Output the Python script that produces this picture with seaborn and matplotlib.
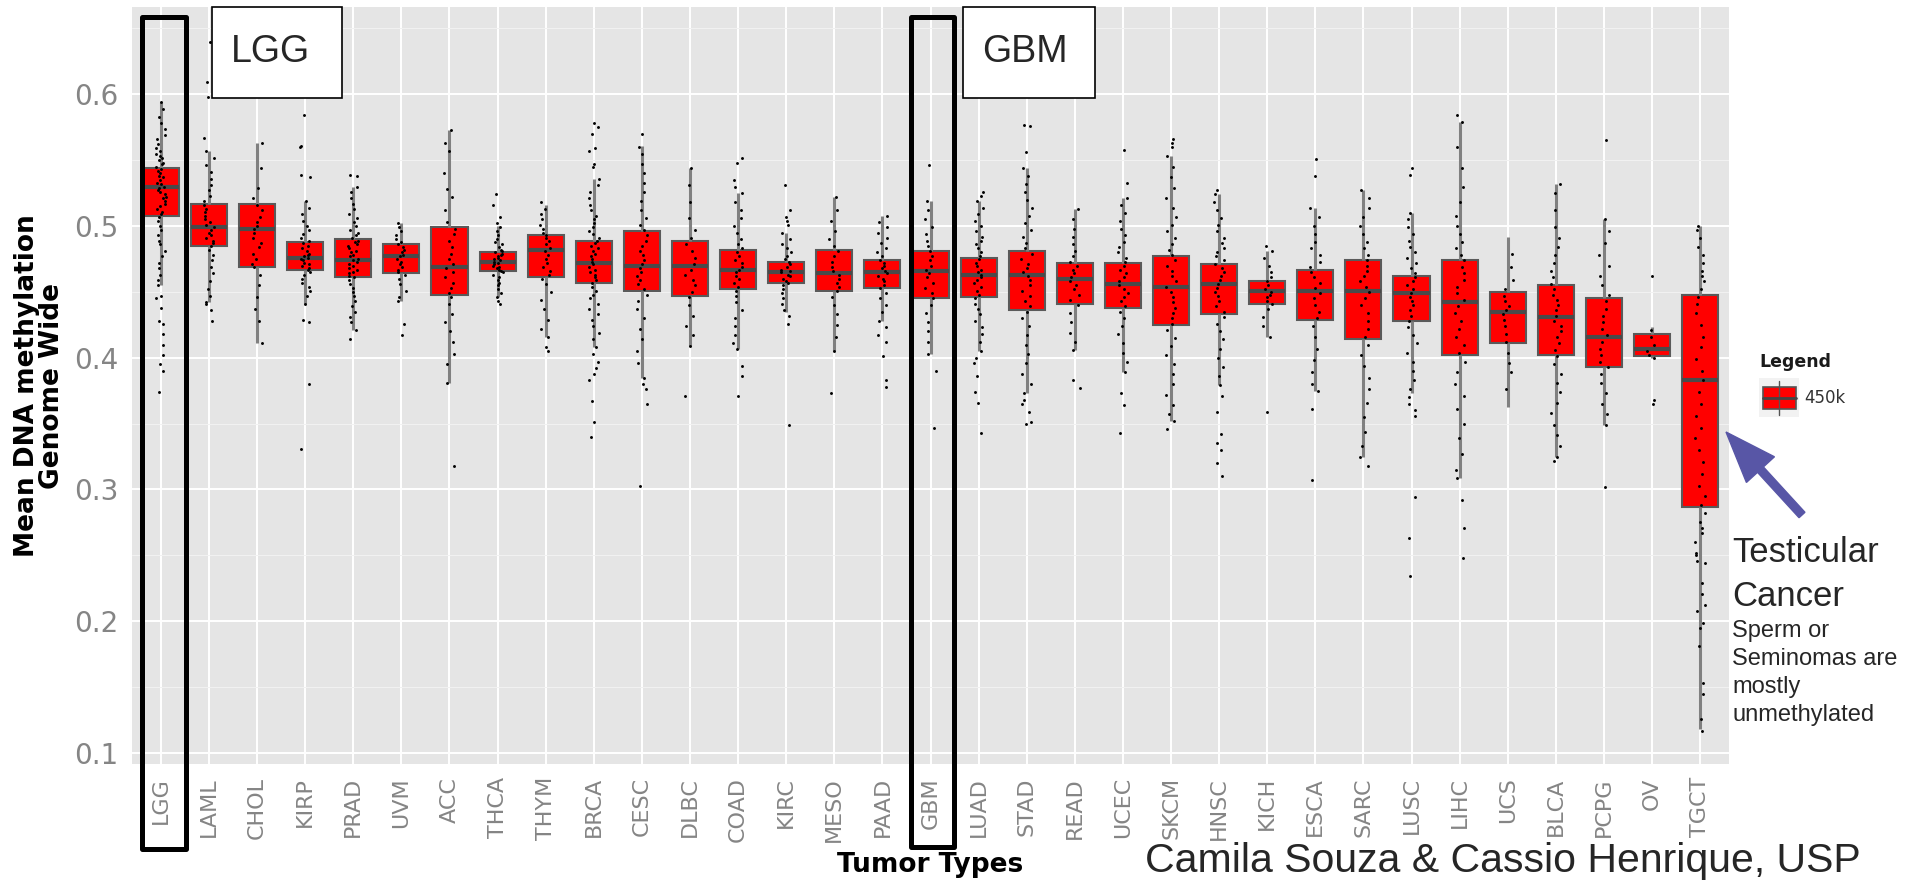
import numpy as np
import pandas as pd
import matplotlib
matplotlib.use("Agg")
import matplotlib.pyplot as plt
import seaborn as sns
from matplotlib.patches import Rectangle, FancyArrow
from matplotlib.lines import Line2D
from matplotlib.transforms import Affine2D
from matplotlib.ticker import MultipleLocator

# 1. Data
tumor_types = ["LGG", "LAML", "CHOL", "KIRP", "PRAD", "UVM", "ACC", "THCA", "THYM", "BRCA",
               "CESC", "DLBC", "COAD", "KIRC", "MESO", "PAAD", "GBM", "LUAD", "STAD", "READ",
               "UCEC", "SKCM", "HNSC", "KICH", "ESCA", "SARC", "LUSC", "LIHC", "UCS", "BLCA",
               "PCPG", "OV", "TGCT"]

whisker_low = [0.455, 0.442, 0.411, 0.441, 0.421, 0.443, 0.381, 0.446, 0.416, 0.408,
               0.385, 0.409, 0.407, 0.435, 0.405, 0.428, 0.403, 0.405, 0.373, 0.406,
               0.389, 0.352, 0.379, 0.416, 0.375, 0.325, 0.373, 0.309, 0.363, 0.325,
               0.349, 0.400, 0.118]
q1 = [0.508, 0.485, 0.469, 0.467, 0.461, 0.464, 0.448, 0.466, 0.461, 0.457,
      0.451, 0.447, 0.452, 0.457, 0.451, 0.453, 0.445, 0.446, 0.436, 0.441,
      0.438, 0.425, 0.433, 0.441, 0.429, 0.414, 0.428, 0.402, 0.411, 0.402,
      0.393, 0.401, 0.287]
median = [0.530, 0.499, 0.498, 0.476, 0.474, 0.477, 0.469, 0.473, 0.482, 0.472,
          0.470, 0.470, 0.467, 0.465, 0.464, 0.465, 0.466, 0.463, 0.463, 0.460,
          0.456, 0.454, 0.456, 0.451, 0.451, 0.451, 0.449, 0.442, 0.435, 0.431,
          0.416, 0.407, 0.383]
q3 = [0.544, 0.517, 0.517, 0.488, 0.490, 0.486, 0.499, 0.480, 0.493, 0.489,
      0.496, 0.489, 0.482, 0.473, 0.482, 0.474, 0.481, 0.476, 0.481, 0.472,
      0.472, 0.477, 0.471, 0.458, 0.467, 0.474, 0.462, 0.474, 0.450, 0.455,
      0.445, 0.418, 0.448]
whisker_high = [0.594, 0.557, 0.563, 0.519, 0.530, 0.502, 0.573, 0.500, 0.516, 0.536,
                0.561, 0.544, 0.525, 0.495, 0.522, 0.508, 0.519, 0.519, 0.544, 0.513,
                0.521, 0.553, 0.524, 0.481, 0.514, 0.527, 0.510, 0.579, 0.492, 0.532,
                0.505, 0.423, 0.500]

samples = {
    "LGG": [0.594, 0.589, 0.583, 0.578, 0.574, 0.569, 0.566, 0.562, 0.559, 0.557, 0.555, 0.553,
            0.552, 0.550, 0.548, 0.547, 0.545, 0.543, 0.542, 0.540, 0.538, 0.537, 0.535, 0.533,
            0.532, 0.530, 0.529, 0.527, 0.526, 0.524, 0.522, 0.521, 0.519, 0.517, 0.515, 0.513,
            0.511, 0.509, 0.507, 0.504, 0.500, 0.497, 0.493, 0.489, 0.486, 0.481, 0.477, 0.472,
            0.468, 0.463, 0.459, 0.455, 0.447, 0.445, 0.438, 0.428, 0.426, 0.418, 0.410, 0.402,
            0.395, 0.390, 0.374],
    "LAML": [0.640, 0.609, 0.598, 0.567, 0.557, 0.552, 0.546, 0.541, 0.536, 0.531, 0.527, 0.523,
             0.519, 0.516, 0.513, 0.511, 0.508, 0.505, 0.503, 0.501, 0.499, 0.497, 0.495, 0.493,
             0.491, 0.489, 0.487, 0.485, 0.482, 0.478, 0.474, 0.469, 0.464, 0.458, 0.452, 0.447,
             0.442, 0.441, 0.436, 0.428],
    "CHOL": [0.563, 0.544, 0.529, 0.521, 0.516, 0.512, 0.507, 0.503, 0.500, 0.498, 0.495, 0.491,
             0.487, 0.484, 0.479, 0.475, 0.471, 0.469, 0.463, 0.455, 0.446, 0.437, 0.428, 0.411],
    "KIRP": [0.584, 0.561, 0.560, 0.539, 0.537, 0.519, 0.514, 0.509, 0.504, 0.500, 0.497, 0.494,
             0.491, 0.489, 0.487, 0.485, 0.483, 0.481, 0.479, 0.478, 0.477, 0.476, 0.475, 0.474,
             0.472, 0.471, 0.470, 0.468, 0.467, 0.465, 0.463, 0.460, 0.457, 0.454, 0.451, 0.447,
             0.441, 0.429, 0.427, 0.380, 0.331],
    "PRAD": [0.539, 0.538, 0.530, 0.526, 0.521, 0.517, 0.513, 0.509, 0.506, 0.503, 0.500, 0.497,
             0.495, 0.493, 0.491, 0.489, 0.488, 0.486, 0.485, 0.483, 0.481, 0.480, 0.478, 0.477,
             0.475, 0.474, 0.473, 0.471, 0.470, 0.468, 0.467, 0.465, 0.464, 0.462, 0.461, 0.459,
             0.456, 0.453, 0.450, 0.447, 0.443, 0.439, 0.435, 0.431, 0.427, 0.421, 0.414],
    "UVM": [0.502, 0.499, 0.496, 0.493, 0.490, 0.488, 0.486, 0.484, 0.482, 0.480, 0.478, 0.477,
            0.475, 0.473, 0.471, 0.469, 0.467, 0.465, 0.463, 0.460, 0.456, 0.451, 0.446, 0.443,
            0.426, 0.417],
    "ACC": [0.573, 0.563, 0.557, 0.540, 0.528, 0.522, 0.512, 0.503, 0.498, 0.494, 0.489, 0.484,
            0.479, 0.475, 0.471, 0.468, 0.465, 0.461, 0.457, 0.453, 0.449, 0.446, 0.441, 0.433,
            0.427, 0.420, 0.412, 0.403, 0.395, 0.381, 0.318],
    "THCA": [0.524, 0.516, 0.507, 0.502, 0.499, 0.496, 0.493, 0.490, 0.488, 0.486, 0.484, 0.482,
             0.481, 0.480, 0.479, 0.478, 0.477, 0.476, 0.475, 0.474, 0.473, 0.472, 0.471, 0.470,
             0.469, 0.468, 0.467, 0.466, 0.465, 0.463, 0.461, 0.459, 0.457, 0.455, 0.452, 0.449,
             0.446, 0.443, 0.441],
    "THYM": [0.518, 0.513, 0.509, 0.505, 0.501, 0.498, 0.495, 0.493, 0.491, 0.489, 0.486, 0.483,
             0.481, 0.478, 0.475, 0.472, 0.469, 0.466, 0.463, 0.460, 0.456, 0.450, 0.444, 0.437,
             0.429, 0.422, 0.416, 0.408, 0.405],
    "BRCA": [0.578, 0.575, 0.570, 0.559, 0.557, 0.547, 0.545, 0.536, 0.531, 0.526, 0.521, 0.516,
             0.512, 0.508, 0.505, 0.502, 0.499, 0.496, 0.494, 0.491, 0.489, 0.487, 0.485, 0.483,
             0.481, 0.479, 0.477, 0.475, 0.473, 0.471, 0.469, 0.467, 0.465, 0.463, 0.461, 0.459,
             0.457, 0.454, 0.451, 0.448, 0.445, 0.441, 0.437, 0.433, 0.429, 0.424, 0.419, 0.414,
             0.408, 0.403, 0.397, 0.392, 0.388, 0.383, 0.367, 0.351, 0.340],
    "CESC": [0.570, 0.560, 0.555, 0.547, 0.540, 0.533, 0.526, 0.519, 0.512, 0.506, 0.501, 0.497,
             0.493, 0.489, 0.485, 0.481, 0.478, 0.474, 0.471, 0.468, 0.465, 0.462, 0.459, 0.456,
             0.452, 0.448, 0.443, 0.437, 0.430, 0.422, 0.414, 0.405, 0.396, 0.385, 0.380, 0.376,
             0.365, 0.303],
    "DLBC": [0.544, 0.531, 0.518, 0.506, 0.497, 0.491, 0.486, 0.481, 0.476, 0.471, 0.467, 0.463,
             0.459, 0.455, 0.450, 0.446, 0.440, 0.432, 0.424, 0.417, 0.409, 0.371],
    "COAD": [0.552, 0.548, 0.535, 0.530, 0.525, 0.518, 0.512, 0.506, 0.500, 0.495, 0.490, 0.486,
             0.483, 0.480, 0.477, 0.474, 0.472, 0.469, 0.467, 0.465, 0.462, 0.460, 0.457, 0.454,
             0.451, 0.447, 0.442, 0.436, 0.430, 0.424, 0.417, 0.411, 0.407, 0.394, 0.386, 0.371],
    "KIRC": [0.531, 0.512, 0.507, 0.504, 0.501, 0.495, 0.490, 0.486, 0.483, 0.480, 0.477, 0.475,
             0.473, 0.471, 0.469, 0.467, 0.466, 0.465, 0.463, 0.462, 0.460, 0.458, 0.457, 0.455,
             0.452, 0.449, 0.445, 0.441, 0.436, 0.432, 0.426, 0.349],
    "MESO": [0.522, 0.512, 0.504, 0.496, 0.490, 0.485, 0.481, 0.477, 0.473, 0.469, 0.466, 0.463,
             0.460, 0.457, 0.454, 0.451, 0.446, 0.440, 0.433, 0.425, 0.416, 0.405, 0.373],
    "PAAD": [0.508, 0.503, 0.499, 0.495, 0.491, 0.487, 0.483, 0.480, 0.477, 0.474, 0.472, 0.470,
             0.468, 0.466, 0.464, 0.462, 0.460, 0.458, 0.455, 0.453, 0.449, 0.445, 0.440, 0.435,
             0.428, 0.423, 0.417, 0.412, 0.401, 0.383, 0.378],
    "GBM": [0.546, 0.519, 0.512, 0.505, 0.499, 0.494, 0.489, 0.485, 0.481, 0.477, 0.474, 0.470,
            0.467, 0.464, 0.461, 0.457, 0.453, 0.449, 0.445, 0.440, 0.434, 0.427, 0.420, 0.412,
            0.403, 0.390, 0.347],
    "LUAD": [0.526, 0.523, 0.519, 0.514, 0.509, 0.504, 0.500, 0.496, 0.492, 0.489, 0.486, 0.483,
             0.480, 0.477, 0.475, 0.472, 0.470, 0.467, 0.465, 0.463, 0.461, 0.459, 0.457, 0.454,
             0.451, 0.448, 0.445, 0.441, 0.437, 0.433, 0.428, 0.423, 0.418, 0.412, 0.405, 0.400,
             0.396, 0.386, 0.374, 0.366, 0.343],
    "STAD": [0.577, 0.576, 0.556, 0.544, 0.538, 0.532, 0.526, 0.520, 0.514, 0.508, 0.502, 0.497,
             0.492, 0.487, 0.483, 0.479, 0.475, 0.471, 0.468, 0.465, 0.462, 0.459, 0.455, 0.451,
             0.447, 0.443, 0.439, 0.435, 0.430, 0.424, 0.417, 0.410, 0.403, 0.396, 0.388, 0.380,
             0.373, 0.368, 0.365, 0.359, 0.351, 0.350],
    "READ": [0.513, 0.505, 0.498, 0.492, 0.486, 0.481, 0.477, 0.473, 0.470, 0.467, 0.464, 0.461,
             0.458, 0.455, 0.452, 0.448, 0.444, 0.440, 0.434, 0.427, 0.419, 0.412, 0.406, 0.383,
             0.377],
    "UCEC": [0.558, 0.533, 0.521, 0.516, 0.510, 0.504, 0.498, 0.493, 0.488, 0.484, 0.480, 0.476,
             0.473, 0.470, 0.467, 0.464, 0.461, 0.458, 0.455, 0.452, 0.449, 0.446, 0.443, 0.439,
             0.435, 0.430, 0.424, 0.418, 0.411, 0.404, 0.397, 0.389, 0.373, 0.364, 0.343],
    "SKCM": [0.566, 0.563, 0.560, 0.553, 0.545, 0.537, 0.529, 0.521, 0.514, 0.507, 0.501, 0.496,
             0.491, 0.486, 0.482, 0.478, 0.474, 0.470, 0.466, 0.462, 0.458, 0.454, 0.450, 0.446,
             0.442, 0.438, 0.434, 0.430, 0.426, 0.421, 0.415, 0.409, 0.402, 0.395, 0.388, 0.380,
             0.372, 0.364, 0.357, 0.352, 0.346],
    "HNSC": [0.527, 0.524, 0.518, 0.512, 0.506, 0.501, 0.496, 0.491, 0.487, 0.483, 0.480, 0.477,
             0.474, 0.471, 0.468, 0.465, 0.462, 0.459, 0.456, 0.453, 0.450, 0.447, 0.443, 0.439,
             0.435, 0.431, 0.426, 0.420, 0.414, 0.407, 0.400, 0.393, 0.386, 0.379, 0.371, 0.359,
             0.342, 0.335, 0.330, 0.320, 0.310],
    "KICH": [0.485, 0.481, 0.476, 0.470, 0.465, 0.461, 0.458, 0.455, 0.452, 0.450, 0.448, 0.446,
             0.443, 0.441, 0.437, 0.431, 0.424, 0.416, 0.359],
    "ESCA": [0.551, 0.538, 0.514, 0.507, 0.500, 0.494, 0.488, 0.483, 0.478, 0.473, 0.469, 0.465,
             0.461, 0.457, 0.453, 0.449, 0.445, 0.440, 0.435, 0.430, 0.424, 0.416, 0.407, 0.398,
             0.389, 0.380, 0.375, 0.361, 0.307],
    "SARC": [0.527, 0.521, 0.514, 0.507, 0.500, 0.494, 0.488, 0.483, 0.478, 0.474, 0.470, 0.466,
             0.462, 0.458, 0.454, 0.450, 0.445, 0.440, 0.434, 0.428, 0.422, 0.416, 0.410, 0.402,
             0.394, 0.385, 0.376, 0.366, 0.355, 0.344, 0.333, 0.325, 0.318],
    "LUSC": [0.544, 0.539, 0.510, 0.505, 0.499, 0.494, 0.489, 0.484, 0.480, 0.476, 0.472, 0.468,
             0.464, 0.461, 0.458, 0.455, 0.452, 0.449, 0.446, 0.443, 0.440, 0.436, 0.432, 0.428,
             0.423, 0.417, 0.411, 0.404, 0.397, 0.390, 0.383, 0.376, 0.370, 0.365, 0.360, 0.356,
             0.294, 0.263, 0.234],
    "LIHC": [0.584, 0.579, 0.560, 0.544, 0.530, 0.518, 0.508, 0.500, 0.494, 0.488, 0.483, 0.478,
             0.474, 0.469, 0.464, 0.459, 0.454, 0.449, 0.444, 0.439, 0.434, 0.428, 0.422, 0.416,
             0.410, 0.404, 0.397, 0.389, 0.380, 0.371, 0.361, 0.350, 0.339, 0.327, 0.315, 0.309,
             0.292, 0.271, 0.248],
    "UCS": [0.479, 0.469, 0.459, 0.452, 0.447, 0.443, 0.439, 0.436, 0.433, 0.429, 0.424, 0.418,
            0.412, 0.404, 0.396, 0.389, 0.376],
    "BLCA": [0.532, 0.525, 0.512, 0.499, 0.491, 0.484, 0.478, 0.472, 0.466, 0.461, 0.456, 0.452,
             0.448, 0.444, 0.440, 0.436, 0.432, 0.428, 0.424, 0.420, 0.416, 0.411, 0.406, 0.401,
             0.395, 0.388, 0.381, 0.374, 0.366, 0.358, 0.349, 0.341, 0.333, 0.325, 0.322],
    "PCPG": [0.565, 0.505, 0.496, 0.487, 0.478, 0.470, 0.462, 0.455, 0.448, 0.443, 0.437, 0.432,
             0.427, 0.422, 0.417, 0.412, 0.407, 0.402, 0.397, 0.393, 0.388, 0.381, 0.373, 0.365,
             0.357, 0.349, 0.302],
    "OV": [0.462, 0.421, 0.416, 0.410, 0.405, 0.402, 0.400, 0.368, 0.365],
    "TGCT": [0.500, 0.497, 0.491, 0.484, 0.478, 0.472, 0.466, 0.462, 0.458, 0.452, 0.446, 0.441,
             0.434, 0.425, 0.416, 0.408, 0.399, 0.390, 0.383, 0.374, 0.365, 0.356, 0.347, 0.339,
             0.330, 0.321, 0.312, 0.303, 0.295, 0.288, 0.282, 0.275, 0.271, 0.267, 0.260, 0.252,
             0.250, 0.246, 0.244, 0.229, 0.221, 0.212, 0.208, 0.199, 0.195, 0.181, 0.153, 0.145,
             0.126, 0.117],
}

# 2. Long tables for seaborn
box_df = pd.DataFrame({
    "type": np.repeat(tumor_types, 5),
    "value": np.column_stack([whisker_low, q1, median, q3, whisker_high]).ravel(),
})
pts_df = pd.DataFrame([(t, v) for t in tumor_types for v in samples[t]], columns=["type", "value"])

# 3. Figure
W, H = 1905, 883
sns.set_style("darkgrid", rc={"axes.facecolor": "#E5E5E5", "grid.color": "white"})
plt.rcParams["font.family"] = ["DejaVu Sans"]

fig = plt.figure(figsize=(W / 100, H / 100), dpi=100, facecolor="white")
ax = fig.add_axes([132 / W, 1 - 764 / H, 1597 / W, 757 / H])
px = Affine2D().scale(1 / W, -1 / H).translate(0, 1) + fig.transFigure

sns.boxplot(data=box_df, x="type", y="value", order=tumor_types, color="#FF0000", saturation=1,
            width=0.75, whis=(0, 100), showcaps=False, showfliers=False,
            linecolor="#5A5A5A", linewidth=1.5,
            medianprops={"color": "#4A4A4A", "linewidth": 3},
            whiskerprops={"color": "#808080", "linewidth": 2.2}, ax=ax)

np.random.seed(3)
sns.stripplot(data=pts_df, x="type", y="value", order=tumor_types, color="black",
              size=2.1, jitter=0.11, linewidth=0, ax=ax, zorder=3)

# 4. Axes styling (ggplot look)
ax.set_xlim(-0.6, len(tumor_types) - 0.4)
ax.set_ylim(0.0916, 0.6663)
ax.set_yticks([0.1, 0.2, 0.3, 0.4, 0.5, 0.6])
ax.set_yticklabels(["0.1", "0.2", "0.3", "0.4", "0.5", "0.6"])
ax.yaxis.set_minor_locator(MultipleLocator(0.05))
ax.grid(which="major", color="white", linewidth=1.4)
ax.grid(which="minor", axis="y", color="#F2F2F2", linewidth=0.7)
ax.set_axisbelow(True)
ax.tick_params(axis="y", which="minor", length=0)
ax.tick_params(axis="both", which="major", length=3, width=1, color="#A0A0A0", labelcolor="#858585")
ax.tick_params(axis="y", labelsize=20, pad=7)
ax.tick_params(axis="x", labelsize=16, labelrotation=90, pad=6.5)
ax.set_xlabel("")
ax.set_ylabel("")
for s in ax.spines.values():
    s.set_visible(False)

# 5. Axis titles
fig.text(27, 386, "Mean DNA methylation", transform=px, rotation=90, ha="center", va="center",
         fontsize=19, fontweight="bold", color="black")
fig.text(52, 386, "Genome Wide", transform=px, rotation=90, ha="center", va="center",
         fontsize=19, fontweight="bold", color="black")
fig.text(930, 872, "Tumor Types", transform=px, ha="center", va="baseline",
         fontsize=19, fontweight="bold", color="black")

# 6. Annotations
arial = "Liberation Sans"
for x0, w, lab in [(212, 130, "LGG"), (963, 132, "GBM")]:
    fig.add_artist(Rectangle((x0, 7), w, 91, transform=px, facecolor="white",
                             edgecolor="black", linewidth=1.2, zorder=5))
    fig.text(x0 + 19, 62, lab, transform=px, fontsize=27, family=arial, va="baseline", zorder=6)

for x0, w, h in [(141.5, 44, 832), (910.5, 43, 830)]:
    fig.add_artist(Rectangle((x0, 16.5), w, h, transform=px, facecolor="none",
                             edgecolor="black", linewidth=3.6, joinstyle="round", zorder=6))

# legend
fig.text(1759, 367, "Legend", transform=px, fontsize=12.5, fontweight="bold",
         color="#1A1A1A", va="baseline")
fig.add_artist(Rectangle((1759, 378), 40, 39, transform=px, facecolor="#F2F2F2", edgecolor="none"))
fig.add_artist(Line2D([1779, 1779], [381, 415], transform=px, color="#555555", linewidth=1))
fig.add_artist(Rectangle((1763, 387), 33, 22, transform=px, facecolor="#FF0000",
                         edgecolor="#555555", linewidth=1.2))
fig.add_artist(Line2D([1763, 1796], [398, 398], transform=px, color="#444444", linewidth=2))
fig.text(1804, 398, "450k", transform=px, fontsize=12, color="#333333", va="center")

# arrow + testicular note
fig.add_artist(FancyArrow(1802, 515, -76, -83, width=8, head_width=38, head_length=51,
                          length_includes_head=True, color="#5856A6", transform=px))
fig.text(1732, 562, "Testicular", transform=px, fontsize=25, family=arial, va="baseline")
fig.text(1732, 606, "Cancer", transform=px, fontsize=25, family=arial, va="baseline")
for yb, line in zip([637, 665, 693, 721], ["Sperm or", "Seminomas are", "mostly", "unmethylated"]):
    fig.text(1732, yb, line, transform=px, fontsize=17, family=arial, va="baseline")

fig.text(1145, 872, "Camila Souza & Cassio Henrique, USP", transform=px, fontsize=29.5,
         family=arial, va="baseline")

fig.savefig("out.png", dpi=100)
